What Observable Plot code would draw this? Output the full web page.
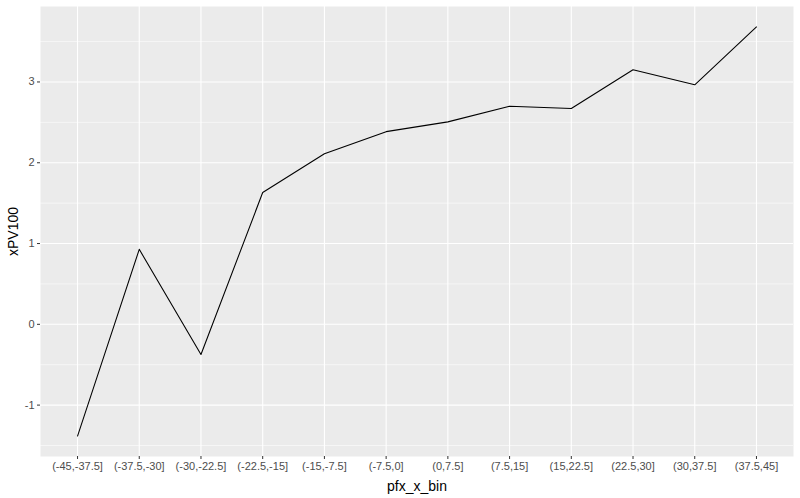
<!DOCTYPE html>
<html>
<head>
<meta charset="utf-8">
<script src="https://cdn.jsdelivr.net/npm/d3@7"></script>
<script src="https://cdn.jsdelivr.net/npm/@observablehq/plot@0.6"></script>
<style>
  html, body { margin: 0; padding: 0; background: #fff; }
  svg { display: block; }
</style>
</head>
<body>
<div id="chart"></div>
<script>
const bins = ["(-45,-37.5]", "(-37.5,-30]", "(-30,-22.5]", "(-22.5,-15]", "(-15,-7.5]", "(-7.5,0]", "(0,7.5]", "(7.5,15]", "(15,22.5]", "(22.5,30]", "(30,37.5]", "(37.5,45]"];
const xPV100 = [-1.383, 0.928, -0.373, 1.631, 2.112, 2.385, 2.506, 2.70, 2.671, 3.151, 2.965, 3.681];
const yMajor = [-1, 0, 1, 2, 3];
const yMinor = [-1.5, -0.5, 0.5, 1.5, 2.5, 3.5];

const data = bins.map((b, i) => ({bin: b, v: xPV100[i]}));

const yMin = d3.min(xPV100), yMax = d3.max(xPV100);
const pad = (yMax - yMin) * 0.05;

const chart = Plot.plot({
  width: 800,
  height: 498,
  marginLeft: 40,
  marginRight: 7,
  marginTop: 6,
  marginBottom: 42,
  style: {fontFamily: "'Liberation Sans', Arial, sans-serif", background: "#fff"},
  x: {type: "point", domain: bins, padding: 0.6, round: false},
  y: {domain: [yMin - pad, yMax + pad]},
  marks: [
    Plot.frame({fill: "#ebebeb", stroke: null}),
    Plot.gridY(yMinor, {stroke: "#fff", strokeOpacity: 1, strokeWidth: 0.55}),
    Plot.gridY(yMajor, {stroke: "#fff", strokeOpacity: 1, strokeWidth: 1.1}),
    Plot.gridX(bins, {stroke: "#fff", strokeOpacity: 1, strokeWidth: 1.1}),
    Plot.axisX(bins, {tickSize: 3, tickPadding: 3, stroke: "#333", fill: "#4d4d4d", fontSize: 11,
      label: "pfx_x_bin", labelAnchor: "center", labelOffset: 34, labelArrow: "none"}),
    Plot.axisY(yMajor, {tickSize: 3, tickPadding: 3, stroke: "#333", fill: "#4d4d4d", fontSize: 11,
      tickFormat: d => String(d),
      label: "xPV100", labelAnchor: "center", labelOffset: 32, labelArrow: "none"}),
    Plot.line(data, {x: "bin", y: "v", stroke: "#000", strokeWidth: 1.07})
  ]
});
d3.select(chart).selectAll("g[aria-label='x-axis label'] text, g[aria-label='y-axis label'] text")
  .style("font-size", "14px").attr("fill", "#000");
document.getElementById("chart").appendChild(chart);
</script>
</body>
</html>
